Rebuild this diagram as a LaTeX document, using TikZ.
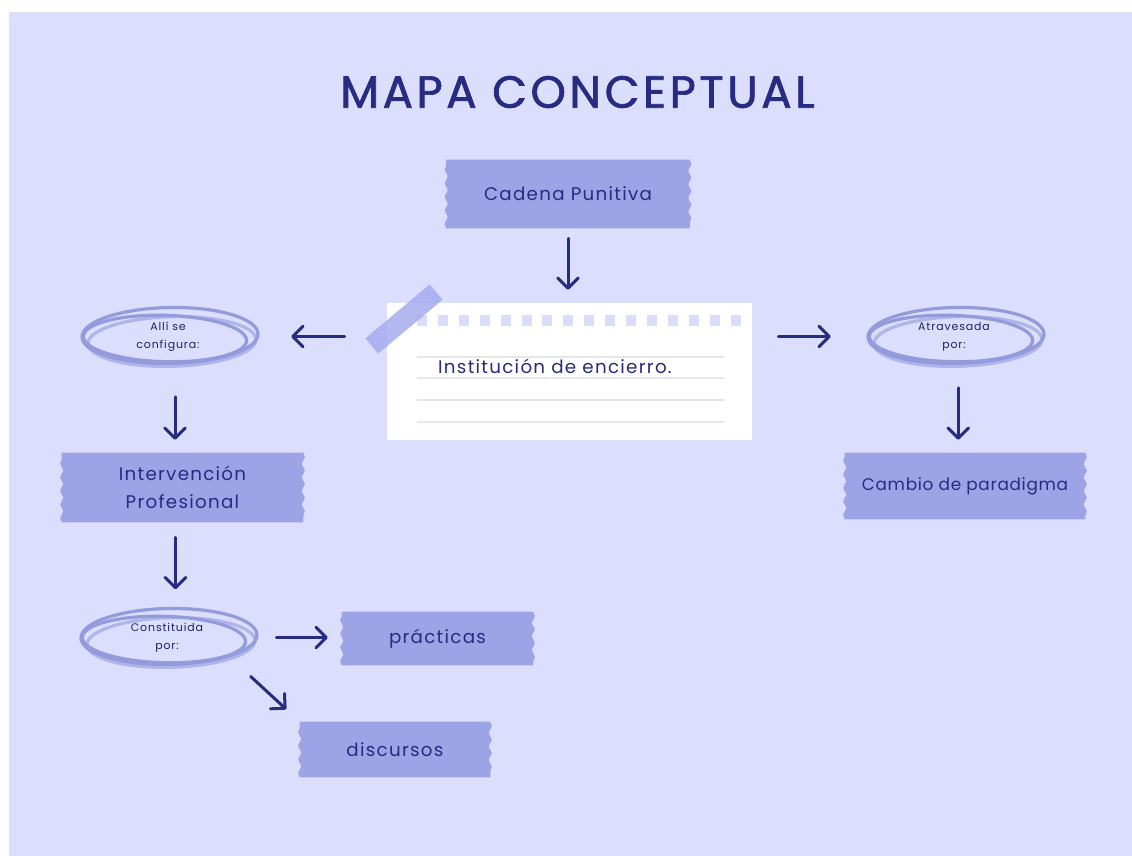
\documentclass[tikz,border=0pt]{standalone}
\usepackage{fontspec}
\setmainfont{Poppins}
\usetikzlibrary{arrows.meta,decorations.pathmorphing,shapes.geometric}
\pgfdeclarelayer{bottom}
\pgfdeclarelayer{background}
\pgfsetlayers{bottom,background,main}
\definecolor{bg}{HTML}{DBDEFC}
\definecolor{tapec}{HTML}{9DA4E6}
\definecolor{ink}{HTML}{272B82}
\definecolor{ring}{HTML}{939BDD}
\definecolor{sq}{HTML}{DADDF8}
\definecolor{rulec}{HTML}{E4E5EE}
\definecolor{notetape}{HTML}{A6ACEE}
\tikzset{
  tapebox/.style={inner sep=0pt, text=ink, align=center,
    font=\fontsize{13}{20}\selectfont\addfontfeatures{LetterSpace=7}},
  ringnode/.style={ellipse, inner sep=0pt, minimum width=44.5mm, minimum height=14mm,
    text=ink!80!black, align=center,
    font=\fontsize{7.8}{12.8}\selectfont\addfontfeatures{LetterSpace=8}},
  ringline/.style={ring, line width=0.8mm},
  arr/.style={ink, line width=0.75mm, line cap=round,
    -{Straight Barb[length=2.6mm, width=5.2mm, line width=0.75mm, round]}},
  wavy/.style={decoration={snake, amplitude=0.4mm, segment length=3.4mm}}
}
\newcommand{\tapefill}[1]{%
  \fill[tapec] (#1.north west) -- (#1.north east)
    decorate[wavy]{-- (#1.south east)} -- (#1.south west)
    decorate[wavy]{-- (#1.north west)} -- cycle;}
\newcommand{\ringdraw}[1]{%
  \draw[ringline] ([shift={(2,-1)}]#1.center) ellipse [x radius=22.0mm, y radius=7.0mm, rotate=1];
  \draw[ringline] ([shift={(-3,2)}]#1.center) ellipse [x radius=20.4mm, y radius=5.8mm, rotate=-1.5];
  \draw[ringline, opacity=0.6] ([shift={(4,5)}]#1.center) ellipse [x radius=21.0mm, y radius=6.2mm, rotate=1.5];}
\begin{document}
\begin{tikzpicture}[x=0.25mm, y=-0.25mm]
\useasboundingbox (0,0) rectangle (1132,856);
\begin{pgfonlayer}{bottom}
\fill[white] (0,0) rectangle (1132,856);
\fill[bg] (9,12) rectangle (1132,856);
\end{pgfonlayer}

% title
\node[text=ink, font=\fontsize{32}{36}\selectfont\addfontfeatures{LetterSpace=8,FakeBold=1.6}] (title) at (577.5,92) {MAPA CONCEPTUAL};

% tape boxes
\node[tapebox, minimum width=60.75mm, minimum height=17mm] (cad) at (568,194) {Cadena Punitiva};
\node[tapebox, minimum width=60.25mm, minimum height=17.25mm] (interv) at (182.5,487.5) {Intervención\\Profesional};
\node[tapebox, minimum width=60mm, minimum height=16.5mm,
  font=\fontsize{12}{20}\selectfont\addfontfeatures{LetterSpace=4}] (cambio) at (965,486) {Cambio de paradigma};
\node[tapebox, minimum width=47.75mm, minimum height=13.25mm] (prac) at (437.5,638.5) {prácticas};
\node[tapebox, minimum width=47.5mm, minimum height=13.75mm] (disc) at (395,749.5) {discursos};

% note
\node[fill=white, minimum width=91.25mm, minimum height=34.25mm, inner sep=0pt] (note) at (569.5,371.5) {};
\foreach \i in {0,...,15} {\fill[sq] (417+\i*20.9,315) rectangle +(10,11);}
\foreach \yy in {357,378,400,422} {\draw[rulec, line width=0.3mm] (417,\yy) -- (724,\yy);}
\fill[notetape, opacity=0.85, shift={(404,319)}, rotate=40] (-42,-10) rectangle (42,10);
\node[text=ink, font=\fontsize{13}{16}\selectfont\addfontfeatures{LetterSpace=7}] (notetxt) at (555,366) {Institución de encierro.};

% rings
\node[ringnode] (e1) at (168,336.5) {Allí se\\configura:};
\node[ringnode] (e2) at (954,336.5) {Atravesada\\por:};
\node[ringnode] (e3) at (167,637.5) {Constituida\\por:};

\begin{pgfonlayer}{background}
  \tapefill{cad}\tapefill{interv}\tapefill{cambio}\tapefill{prac}\tapefill{disc}
  \ringdraw{e1}\ringdraw{e2}\ringdraw{e3}
\end{pgfonlayer}

% connectors
\draw[arr, shorten <=2.5mm, shorten >=3.25mm] (cad.south) -- (cad.south |- note.north);
\draw[arr, shorten <=10.5mm, shorten >=8.5mm] (e1.east -| note.west) -- (e1.east);
\draw[arr, shorten <=6.5mm, shorten >=8.5mm] (e2.west -| note.east) -- (e2.west);
\draw[arr, shorten <=8mm, shorten >=3.25mm] ([xshift=5]e1.south) -- ([xshift=5]e1.south |- interv.north);
\draw[arr, shorten <=3.75mm, shorten >=5mm] ([xshift=6]e3.north |- interv.south) -- ([xshift=6]e3.north);
\draw[arr, shorten <=5mm, shorten >=3.5mm] (e3.east) -- (e3.east -| prac.west);
\draw[arr, shorten <=7mm, shorten >=4.6mm] (e3.south east) -- (disc.north west);
\draw[arr, shorten <=5.75mm, shorten >=3.25mm] ([xshift=3]e2.south) -- ([xshift=3]e2.south |- cambio.north);
\end{tikzpicture}
\end{document}
